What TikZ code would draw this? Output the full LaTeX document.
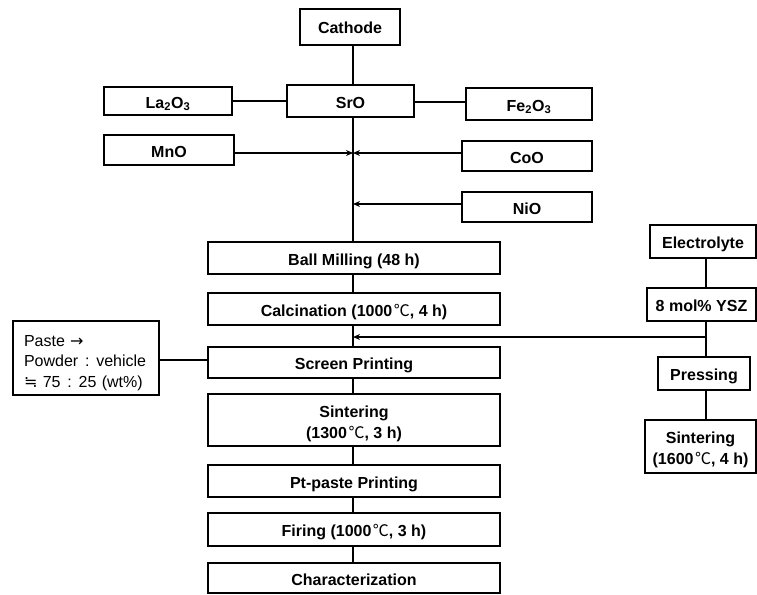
\documentclass[tikz,border=0pt]{standalone}
\usepackage{fontspec}
\setmainfont{Liberation Sans}
\newfontfamily\cjk{Noto Sans CJK KR}
\newfontfamily\djv{DejaVu Sans}
\newcommand\degC{\kern1.5pt{\cjk\mdseries ℃}}
\newcommand\myapprox{{\djv ≒}}
\newcommand\myarrow{{\djv →}}
\newcommand\mycolon{\ \hspace{1.5pt}:\ \hspace{1.5pt}}
\frenchspacing
\usetikzlibrary{arrows.meta}
\begin{document}
\begin{tikzpicture}[x=1pt,y=-1pt,
  box/.style={draw,line width=1.2pt,inner sep=0pt,font=\fontsize{16}{19}\selectfont\bfseries,align=center,text height=14pt,text depth=0pt},
  emptybox/.style={draw,line width=1.2pt,inner sep=0pt},
  twoline/.style={font=\fontsize{16}{21.5}\selectfont\bfseries,align=center,inner sep=0pt},
  conn/.style={line width=1.4pt},
  arr/.style={line width=1.4pt,-{Stealth[length=7pt,width=6pt]}}]
\useasboundingbox (0,0) rectangle (757,594);
\coordinate (spine) at (353,0);
\coordinate (rspine) at (706,0);
% top part
\node[box,minimum width=100pt,minimum height=36pt] (cath) at (350,27) {Cathode};
\node[box,minimum width=127pt,minimum height=32pt] (sro) at (350.5,101) {SrO};
\node[box,minimum width=128pt,minimum height=28pt] (la) at (168,101) {La\textsubscript{2}O\textsubscript{3}};
\node[box,minimum width=126pt,minimum height=32pt] (fe) at (529,104) {Fe\textsubscript{2}O\textsubscript{3}};
\node[box,minimum width=130pt,minimum height=30pt] (mn) at (169,150) {MnO};
\node[box,minimum width=130pt,minimum height=30pt] (co) at (527,156) {CoO};
\node[box,minimum width=130pt,minimum height=30pt] (ni) at (527,207) {NiO};
% main column
\node[box,minimum width=292pt,minimum height=32pt] (ball) at (354,258) {Ball Milling (48 h)};
\node[box,minimum width=292pt,minimum height=32pt] (calc) at (354,309) {Calcination (1000\degC, 4 h)};
\node[box,minimum width=292pt,minimum height=31pt] (screen) at (354,362.5) {Screen Printing};
\node[emptybox,minimum width=292pt,minimum height=52pt] (sint) at (354,420) {};
\node[twoline] (sinttext) at (354,424) {Sintering\\(1300\degC, 3 h)};
\node[box,minimum width=292pt,minimum height=32pt] (pt) at (354,481) {Pt-paste Printing};
\node[box,minimum width=292pt,minimum height=33pt] (fir) at (354,529.5) {Firing (1000\degC, 3 h)};
\node[box,minimum width=292pt,minimum height=30pt] (char) at (354,578) {Characterization};
% paste box
\node[emptybox,minimum width=146pt,minimum height=74pt] (paste) at (86,358) {};
\node[font=\fontsize{16}{20.3}\selectfont,align=left,text width=124pt,inner sep=0pt] (pastetext) at (86,363) {Paste \myarrow\\Powder\mycolon{}vehicle\\\myapprox\ 75\mycolon{}25 (wt\%)};
% right column
\node[box,minimum width=106pt,minimum height=33pt] (elec) at (703,241.5) {Electrolyte};
\node[box,minimum width=109pt,minimum height=33pt] (ysz) at (701.5,304.5) {8 mol\% YSZ};
\node[box,minimum width=92pt,minimum height=33pt] (press) at (704,373.5) {Pressing};
\node[emptybox,minimum width=111pt,minimum height=53pt] (sint2) at (700.5,446.5) {};
\node[twoline] (sint2text) at (700.5,450) {Sintering\\(1600\degC, 4 h)};
% junction coordinates
\coordinate (j1) at (353,153);
\coordinate (j2) at (353,204);
\coordinate (j3) at (353,337);
\coordinate (r3) at (706,337);
% connectors
\draw[conn] (cath.south -| spine) -- (sro.north -| spine);
\draw[conn] (la.east) -- (sro.west |- la.east);
\draw[conn] (sro.east |- 0,102) -- (fe.west |- 0,102);
\draw[conn] (sro.south -| spine) -- (ball.north -| spine);
\draw[arr] (mn.east |- j1) -- (j1);
\draw[arr] (co.west |- j1) -- (j1);
\draw[arr] (ni.west |- j2) -- (j2);
\draw[conn] (ball.south -| spine) -- (calc.north -| spine);
\draw[conn] (calc.south -| spine) -- (screen.north -| spine);
\draw[arr] (r3) -- (j3);
\draw[conn] (screen.south -| spine) -- (sint.north -| spine);
\draw[conn] (sint.south -| spine) -- (pt.north -| spine);
\draw[conn] (pt.south -| spine) -- (fir.north -| spine);
\draw[conn] (fir.south -| spine) -- (char.north -| spine);
\draw[conn] (paste.east |- 0,360) -- (screen.west |- 0,360);
\draw[conn] (elec.south -| rspine) -- (ysz.north -| rspine);
\draw[conn] (ysz.south -| rspine) -- (press.north -| rspine);
\draw[conn] (press.south -| rspine) -- (sint2.north -| rspine);
\end{tikzpicture}
\end{document}
